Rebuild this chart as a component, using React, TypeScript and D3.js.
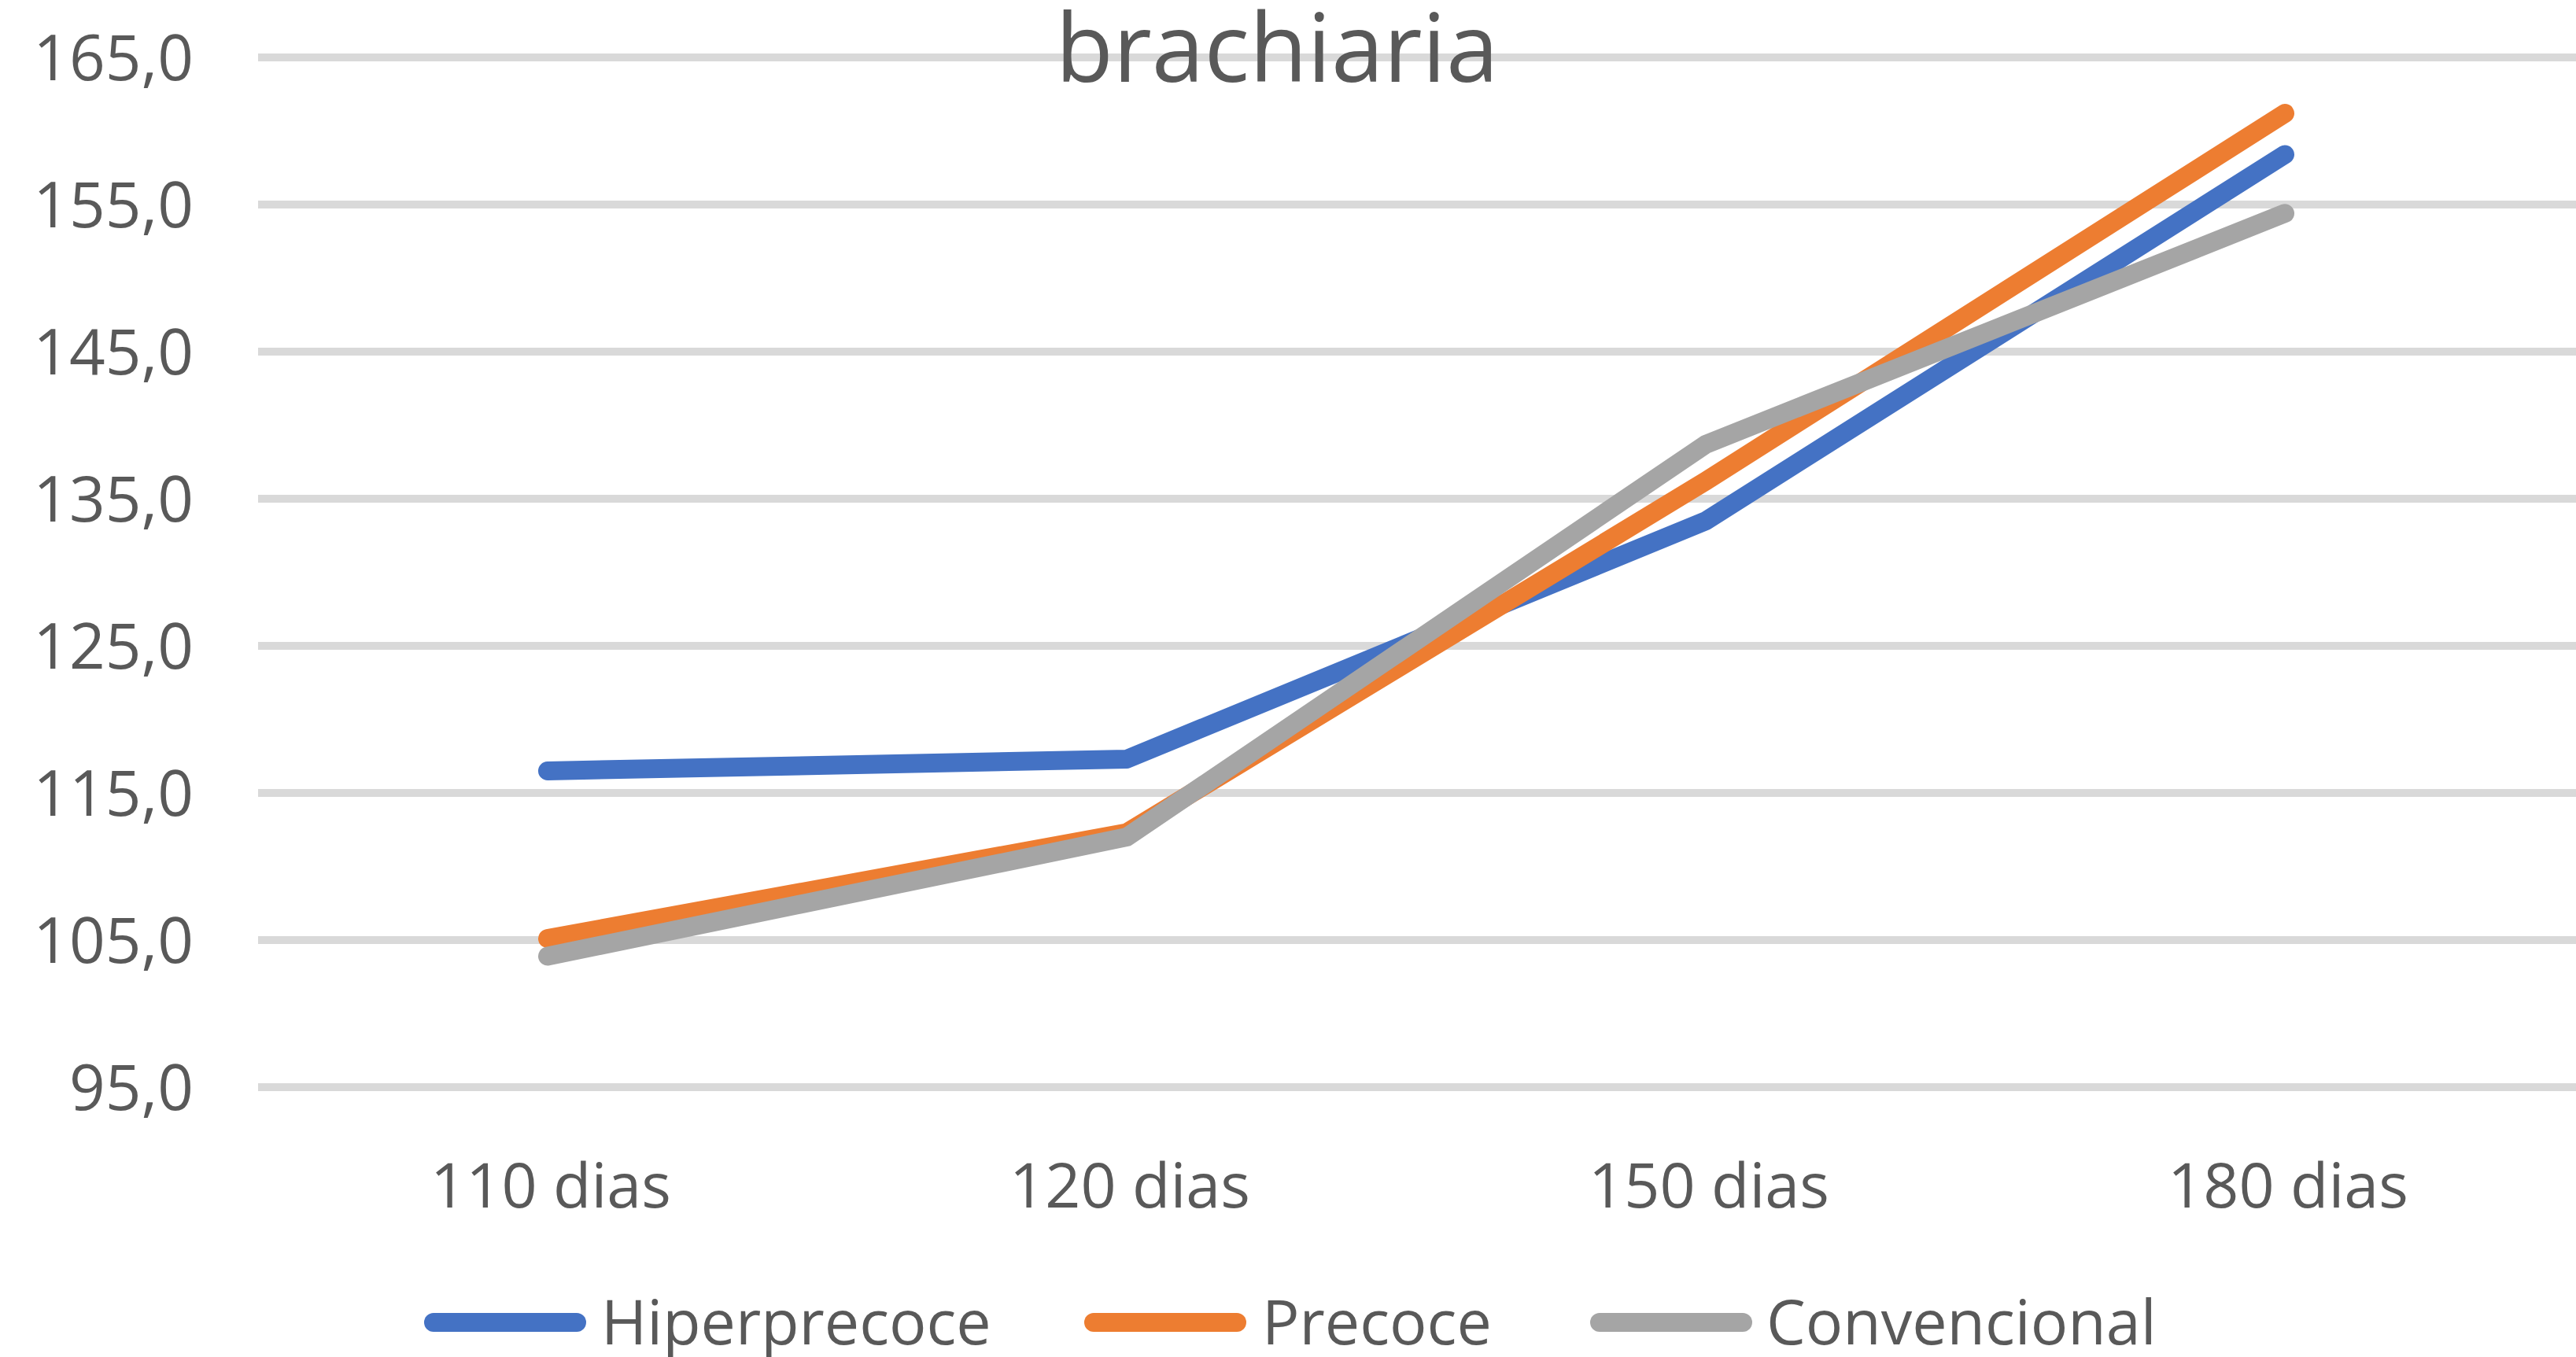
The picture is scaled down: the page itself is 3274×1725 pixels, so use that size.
import * as d3 from "d3";

const categories = ["110 dias", "120 dias", "150 dias", "180 dias"];
const hiperprecoce = [116.5, 117.3, 133.5, 158.4];
const precoce = [105.1, 112.3, 136.2, 161.2];
const convencional = [103.9, 112.0, 138.7, 154.4];
const yTicks = [95, 105, 115, 125, 135, 145, 155, 165];

const series = [
  { name: "Hiperprecoce", values: hiperprecoce, color: "#4472c4" },
  { name: "Precoce", values: precoce, color: "#ed7d31" },
  { name: "Convencional", values: convencional, color: "#a5a5a5" },
];

const width = 3274;
const height = 1725;
const plot = { left: 328, right: 3272, top: 73, bottom: 1382 };
const textColor = "#595959";
const font = "'Open Sans', 'Noto Sans', sans-serif";

export default function App() {
  const x = d3.scaleBand().domain(categories).range([plot.left, plot.right]);
  const cx = (c: string) => (x(c) ?? 0) + x.bandwidth() / 2;
  const y = d3.scaleLinear().domain([95, 165]).range([plot.bottom, plot.top]);
  const fmt = (v: number) => v.toFixed(1).replace(".", ",");

  const line = d3
    .line<number>()
    .x((_, i) => cx(categories[i]))
    .y((d) => y(d));

  // legend entries: swatch start, text start
  const legendItems = [
    { swatch: 539, text: 764 },
    { swatch: 1378, text: 1604 },
    { swatch: 2021, text: 2245 },
  ];
  const legendY = 1681;

  return (
    <svg
      width={width}
      height={height}
      style={{ position: "absolute", left: 0, top: 0, display: "block", background: "#fff" }}
      fontFamily={font}
    >
      <rect width={width} height={height} fill="#fff" />
      {yTicks.map((t) => (
        <g key={t}>
          <line x1={plot.left} x2={width} y1={y(t)} y2={y(t)} stroke="#d9d9d9" strokeWidth={10} />
          <text x={246} y={y(t)} dy="0.36em" textAnchor="end" fontSize={80} fill={textColor}>
            {fmt(t)}
          </text>
        </g>
      ))}
      <text x={1623} y={104} textAnchor="middle" fontSize={120} fill={textColor}>
        brachiaria
      </text>
      {categories.map((c) => (
        <text key={c} x={cx(c) + 4} y={1535} textAnchor="middle" fontSize={79} fill={textColor}>
          {c}
        </text>
      ))}
      {series.map((s) => (
        <path
          key={s.name}
          d={line(s.values) ?? ""}
          fill="none"
          stroke={s.color}
          strokeWidth={24}
          strokeLinecap="round"
          strokeLinejoin="round"
        />
      ))}
      {series.map((s, i) => (
        <g key={s.name}>
          <line
            x1={legendItems[i].swatch + 12}
            x2={legendItems[i].swatch + 194}
            y1={legendY}
            y2={legendY}
            stroke={s.color}
            strokeWidth={24}
            strokeLinecap="round"
          />
          <text x={legendItems[i].text} y={legendY} dy="0.36em" fontSize={79} fill={textColor}>
            {s.name}
          </text>
        </g>
      ))}
    </svg>
  );
}
